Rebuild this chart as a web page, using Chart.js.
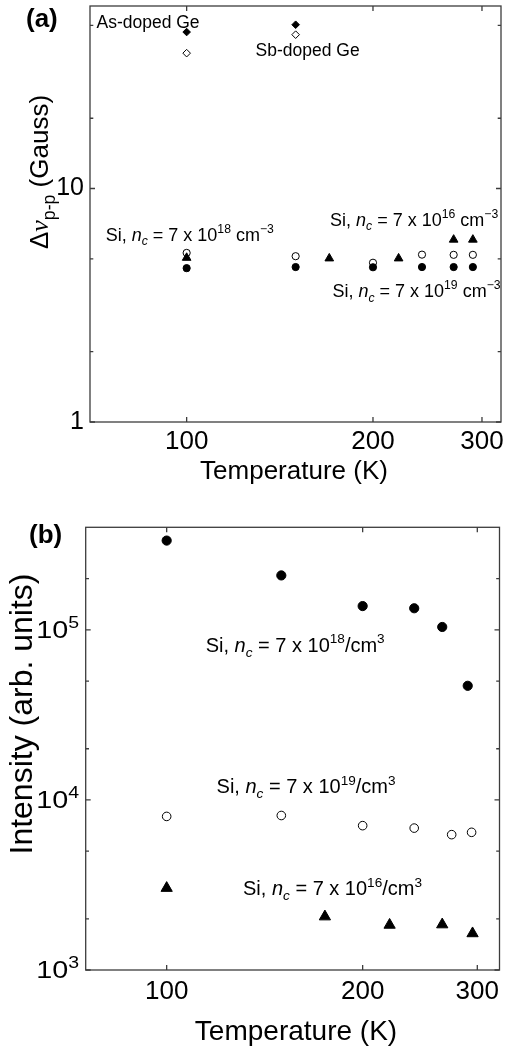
<!DOCTYPE html>
<html>
<head>
<meta charset="utf-8">
<script src="https://cdn.jsdelivr.net/npm/chart.js@4.4.0/dist/chart.umd.min.js"></script>
<style>
  html, body { margin: 0; padding: 0; background: #fff; }
  .panel { position: absolute; left: 0; width: 507px; }
  #wrapA { top: 0; height: 490px; }
  #wrapB { top: 490px; height: 559px; }
</style>
</head>
<body>
<div class="panel" id="wrapA"><canvas id="chartA" width="507" height="490"></canvas></div>
<div class="panel" id="wrapB"><canvas id="chartB" width="507" height="559"></canvas></div>
<script>
const SANS = "'Liberation Sans', Arial, Helvetica, sans-serif";
const SERIF = "'Liberation Serif', 'Times New Roman', serif";
const INK = '#000';
const FRAME = '#3c3c3c';

// (a) peak-to-peak linewidth (Gauss)
const tempGe = [100, 150];
const asDopedGe = [46.8, 50.3];
const sbDopedGe = [38.0, 45.6];
const tempSiA = [100, 150, 200, 240, 270, 290];
const siFilledA = [4.56, 4.61, 4.60, 4.61, 4.61, 4.61];
const siOpenA = [5.30, 5.13, 4.81, 5.21, 5.20, 5.20];
const tempTriA = [100, 170, 220, 270, 290];
const siTriA = [5.05, 5.02, 5.02, 6.04, 6.04];

// (b) intensity (arb. units)
const tempFilledB = [100, 150, 200, 240, 265, 290];
const int18 = [3.35e5, 2.09e5, 1.38e5, 1.34e5, 1.04e5, 4.69e4];
const tempOpenB = [100, 150, 200, 240, 274, 294];
const int19 = [8.0e3, 8.1e3, 7.06e3, 6.83e3, 6.25e3, 6.45e3];
const tempTriB = [100, 175, 220, 265, 295];
const int16 = [3.03e3, 2.06e3, 1.84e3, 1.85e3, 1.64e3];

// ticks
const xTicks = [100, 200, 300];
const yTicksA = [1, 2, 5, 10, 20, 50];
const yMajorA = [1, 10];
const yTicksB = [1e3, 2e3, 5e3, 1e4, 2e4, 5e4, 1e5, 2e5];
const yMajorB = [1e3, 1e4, 1e5];
const yExpB = ['3', '4', '5'];

const pts = (xs, ys) => xs.map((x, i) => ({ x, y: ys[i] }));

const marker = (style, r, fill) => ({
  pointStyle: style, pointRadius: r, pointHoverRadius: r,
  backgroundColor: fill ? INK : '#fff', borderColor: INK, borderWidth: 1, showLine: false
});

function segFont(k, size) {
  const small = +(size * 0.68).toFixed(1);
  switch (k) {
    case 'i': return ['italic ' + size + 'px ' + SANS, 0];
    case 'isub': return ['italic ' + small + 'px ' + SANS, size * 0.25];
    case 'sub': return [small + 'px ' + SANS, size * 0.25];
    case 'sup': return [small + 'px ' + SANS, -size * 0.42];
    case 'g': return ['italic ' + size + 'px ' + SERIF, 0];
    case 'b': return ['bold ' + size + 'px ' + SANS, 0];
    default: return [size + 'px ' + SANS, 0];
  }
}
function richWidth(ctx, segs, size) {
  let w = 0;
  segs.forEach(([t, k]) => { ctx.font = segFont(k, size)[0]; w += ctx.measureText(t).width; });
  return w;
}
function drawRich(ctx, segs, x, y, size) {
  let cx = x;
  segs.forEach(([t, k]) => {
    const [f, dy] = segFont(k, size);
    ctx.font = f;
    ctx.fillText(t, cx, y + dy);
    cx += ctx.measureText(t).width;
  });
}

const siLabel = (exp, unit) => unit === 'cm'
  ? [['Si, '], ['n', 'i'], ['c', 'isub'], [' = 7 x 10'], [exp, 'sup'], [' cm'], ['\u22123', 'sup']]
  : [['Si, '], ['n', 'i'], ['c', 'isub'], [' = 7 x 10'], [exp, 'sup'], ['/cm'], ['3', 'sup']];

function decor(o) {
  return {
    id: 'decor',
    afterDraw(chart) {
      const { ctx, chartArea: a, scales: { x, y } } = chart;
      ctx.save();
      ctx.strokeStyle = FRAME;
      ctx.lineWidth = 1.3;
      ctx.strokeRect(a.left, a.top, a.right - a.left, a.bottom - a.top);
      ctx.beginPath();
      x.ticks.forEach(t => {
        const px = x.getPixelForValue(t.value);
        ctx.moveTo(px, a.bottom); ctx.lineTo(px, a.bottom - 5);
        ctx.moveTo(px, a.top); ctx.lineTo(px, a.top + 5);
      });
      y.ticks.forEach(t => {
        const py = y.getPixelForValue(t.value);
        const len = o.majorY.includes(t.value) ? 5 : 3.3;
        ctx.moveTo(a.left, py); ctx.lineTo(a.left + len, py);
        ctx.moveTo(a.right, py); ctx.lineTo(a.right - len, py);
      });
      ctx.stroke();

      ctx.fillStyle = INK;
      ctx.textBaseline = 'alphabetic';
      ctx.textAlign = 'left';

      // power-of-ten tick labels
      if (o.expLabels) {
        const e = o.expLabels;
        o.majorY.forEach((v, i) => {
          const segs = [['10'], [e.exps[i], 'sup']];
          const w = richWidth(ctx, segs, e.size) * e.stretch;
          const py = y.getPixelForValue(v);
          ctx.save();
          ctx.translate(e.right - w, py + e.dy);
          ctx.scale(e.stretch, 1);
          drawRich(ctx, segs, 0, 0, e.size);
          ctx.restore();
        });
      }

      // annotations anchored in data space
      o.notes.forEach(n => {
        drawRich(ctx, n.segs, x.getPixelForValue(n.x), y.getPixelForValue(n.y), n.size);
      });

      // x title
      const xt = o.xTitle;
      const xw = richWidth(ctx, xt.segs, xt.size);
      drawRich(ctx, xt.segs, xt.cx - xw / 2, xt.base, xt.size);

      // y title (rotated)
      const yt = o.yTitle;
      const yw = richWidth(ctx, yt.segs, yt.size);
      ctx.save();
      ctx.translate(yt.base, yt.cy);
      ctx.rotate(-Math.PI / 2);
      drawRich(ctx, yt.segs, -yw / 2, 0, yt.size);
      ctx.restore();

      // panel tag
      drawRich(ctx, [[o.tag.text, 'b']], o.tag.x, o.tag.y, o.tag.size);
      ctx.restore();
    }
  };
}

function logX(min, max, h, pad) {
  return {
    type: 'logarithmic', min, max,
    afterBuildTicks: s => { s.ticks = xTicks.map(v => ({ value: v })); },
    afterFit: s => { s.height = h; s.paddingLeft = 0; s.paddingRight = 0; },
    border: { display: false },
    grid: { display: false, drawTicks: false },
    ticks: { padding: pad, color: INK, autoSkip: false, maxRotation: 0,
             font: { family: SANS, size: 26 }, callback: v => String(v) }
  };
}
function logY(min, max, w, ticks, majors, showLabels) {
  return {
    type: 'logarithmic', min, max,
    afterBuildTicks: s => { s.ticks = ticks.map(v => ({ value: v })); },
    afterFit: s => { s.width = w; s.paddingTop = 0; s.paddingBottom = 0; },
    border: { display: false },
    grid: { display: false, drawTicks: false },
    ticks: { display: showLabels, padding: 6, color: INK, autoSkip: false,
             font: { family: SANS, size: 25 },
             callback: v => majors.includes(v) ? String(v) : '' }
  };
}

const common = {
  responsive: false, animation: false, events: [], devicePixelRatio: 1,
  plugins: { legend: { display: false }, tooltip: { enabled: false } }
};

new Chart('chartA', {
  type: 'scatter',
  data: {
    datasets: [
      { data: pts(tempTriA, siTriA), ...marker('triangle', 5, true) },
      { data: pts(tempSiA, siFilledA), ...marker('circle', 3.6, true) },
      { data: pts(tempSiA, siOpenA), ...marker('circle', 3.6, false) },
      { data: pts(tempGe, asDopedGe), ...marker('rectRot', 3.8, true) },
      { data: pts(tempGe, sbDopedGe), ...marker('rectRot', 3.8, false) }
    ]
  },
  options: {
    ...common,
    layout: { padding: { left: 0, top: 4.5, right: 1.5, bottom: 0 } },
    scales: {
      x: logX(69.8, 322, 68, 4),
      y: logY(1, 60.5, 90, yTicksA, yMajorA, true)
    }
  },
  plugins: [decor({
    majorY: yMajorA,
    notes: [
      { segs: [['As-doped Ge']], x: 71.5, y: 48.7, size: 17.5 },
      { segs: [['Sb-doped Ge']], x: 129.2, y: 36.85, size: 17.5 },
      { segs: siLabel('18', 'cm'), x: 74.0, y: 5.98, size: 18 },
      { segs: siLabel('16', 'cm'), x: 170.5, y: 6.93, size: 18 },
      { segs: siLabel('19', 'cm'), x: 172.0, y: 3.43, size: 18 }
    ],
    xTitle: { segs: [['Temperature (K)']], cx: 294, base: 479, size: 26 },
    yTitle: { segs: [['\u0394'], ['\u03bd', 'g'], ['p-p', 'sub'], [' (Gauss)']], base: 48, cy: 172, size: 26 },
    tag: { text: '(a)', x: 26, y: 27, size: 26 }
  })]
});

new Chart('chartB', {
  type: 'scatter',
  data: {
    datasets: [
      { data: pts(tempFilledB, int18), ...marker('circle', 4.6, true) },
      { data: pts(tempOpenB, int19), ...marker('circle', 4.3, false) },
      { data: pts(tempTriB, int16), ...marker('triangle', 6.5, true) }
    ]
  },
  options: {
    ...common,
    layout: { padding: { left: 0, top: 37.3, right: 2, bottom: 0 } },
    scales: {
      x: logX(75.1, 324.5, 79, 6),
      y: logY(1e3, 4.01e5, 85.7, yTicksB, yMajorB, false)
    }
  },
  plugins: [decor({
    majorY: yMajorB,
    expLabels: { exps: yExpB, size: 23, stretch: 1.25, right: 79, dy: 8 },
    notes: [
      { segs: siLabel('18', 'per'), x: 114.8, y: 7.45e4, size: 20 },
      { segs: siLabel('19', 'per'), x: 119.3, y: 1.095e4, size: 20 },
      { segs: siLabel('16', 'per'), x: 131.0, y: 2.76e3, size: 20 }
    ],
    xTitle: { segs: [['Temperature (K)']], cx: 296, base: 550, size: 28 },
    yTitle: { segs: [['Intensity (arb. units)']], base: 31.7, cy: 224, size: 32 },
    tag: { text: '(b)', x: 29, y: 53, size: 26 }
  })]
});
</script>
</body>
</html>
